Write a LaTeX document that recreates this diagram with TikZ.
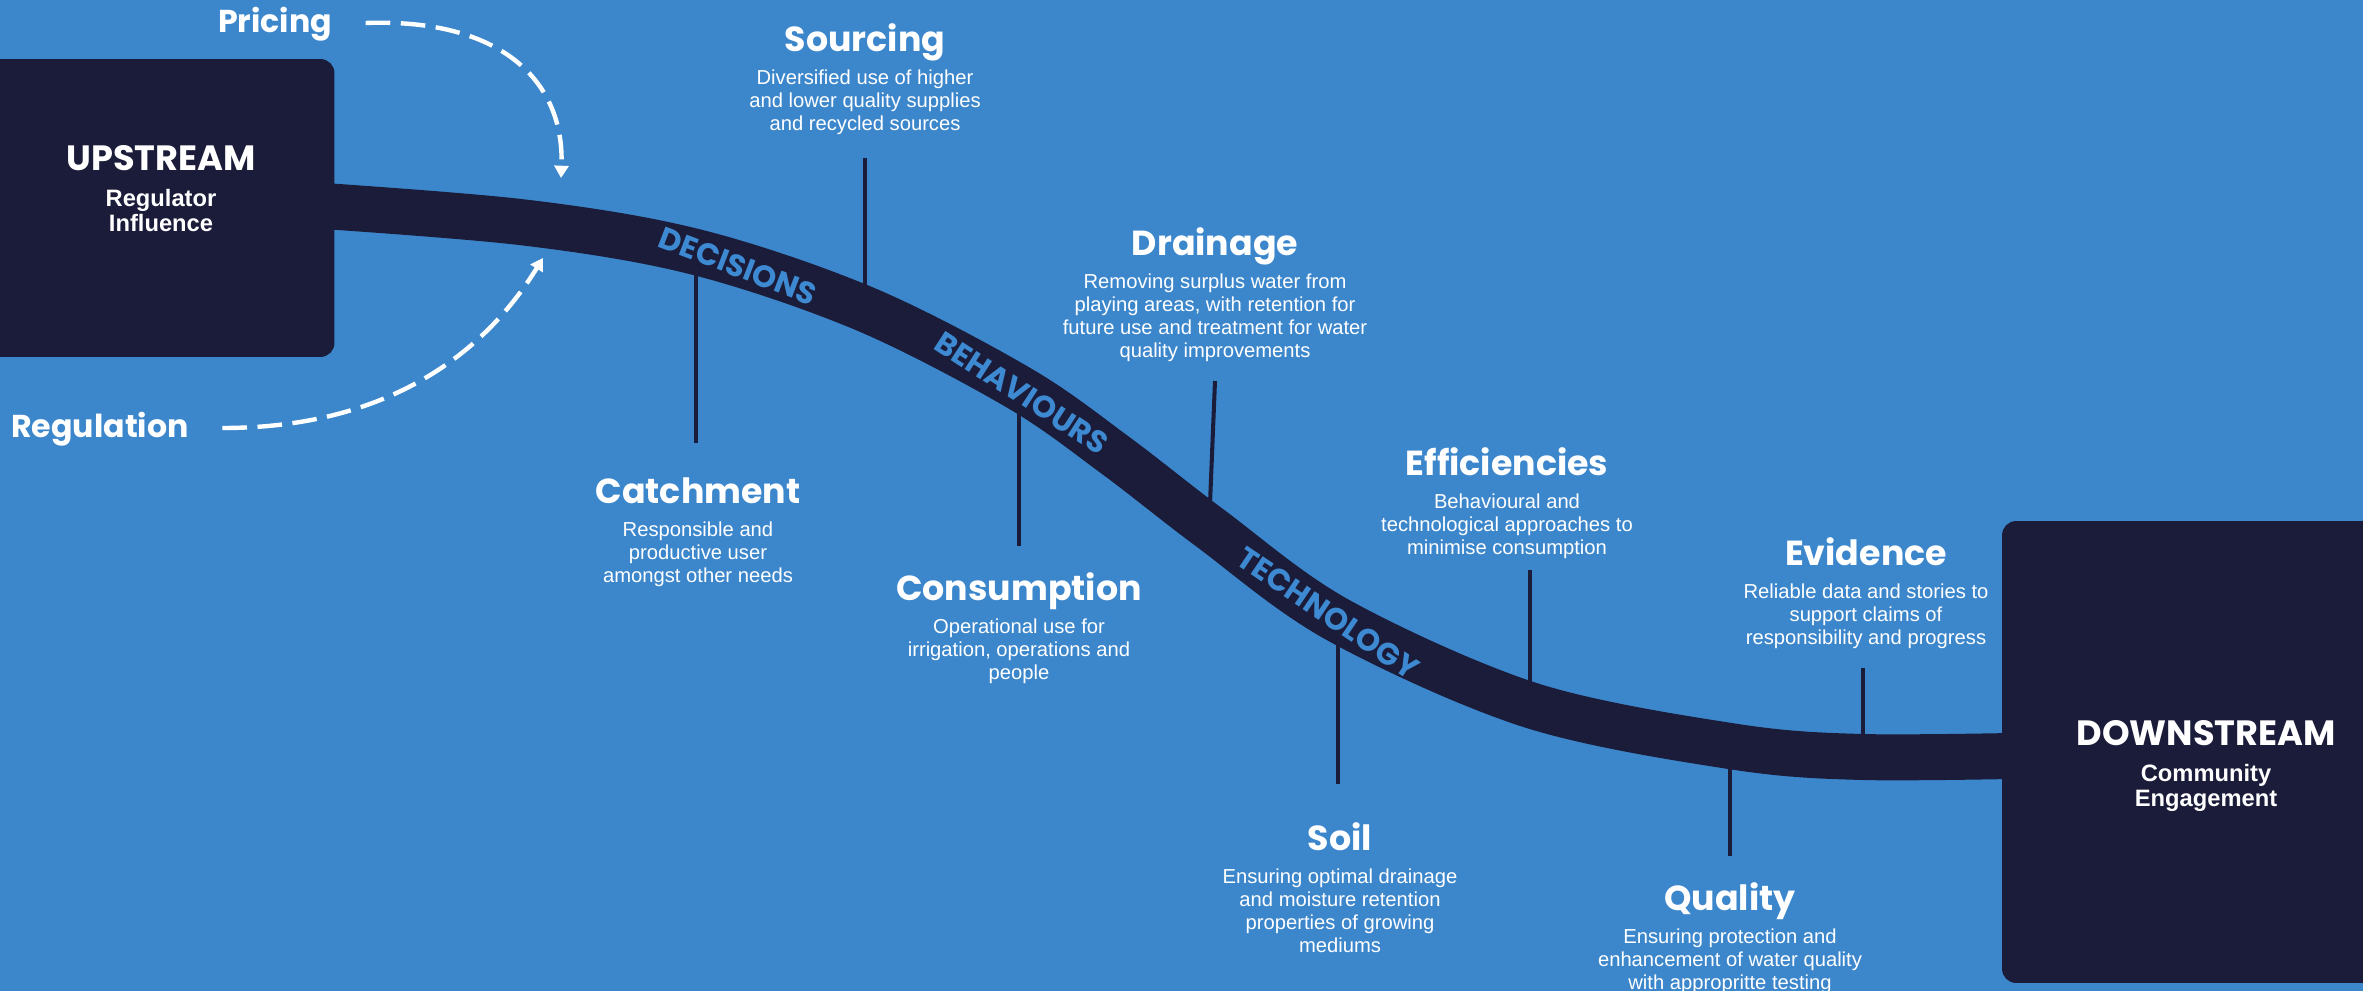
\documentclass[tikz,border=0pt]{standalone}
\usepackage{fontspec}
\setmainfont{Liberation Sans}
\newfontfamily\headfont{Poppins}
\usetikzlibrary{positioning,arrows.meta}

\definecolor{riverblue}{HTML}{3C87CC}
\definecolor{navy}{HTML}{1B1C3A}
\definecolor{bandtxt}{HTML}{3D8AD2}

\tikzset{
  stage/.style={text=white, inner sep=0pt, text height=15pt, text depth=4pt,
    font=\headfont\bfseries\fontsize{19.8}{24}\selectfont},
  note/.style={text=white, inner sep=0pt, align=center,
    font=\fontsize{11.5}{13}\selectfont},
  endbox/.style={fill=navy, rounded corners=8pt, inner sep=0pt},
  endhead/.style={stage, font=\headfont\bfseries\fontsize{20}{22}\selectfont},
  endnote/.style={note, font=\bfseries\fontsize{13.5}{14.7}\selectfont},
  driver/.style={stage, font=\headfont\bfseries\fontsize{18}{22}\selectfont},
  flow/.style={white, line width=2.5pt, dash pattern=on 14pt off 6pt,
    -{Triangle[length=7pt,width=8pt]}},
  pipe/.style={navy, line width=0.92cm},
  tick/.style={navy, line width=2.3pt},
  bandlabel/.style={text=bandtxt, inner sep=0pt,
    font=\headfont\bfseries\fontsize{17.5}{20}\selectfont},
}

\begin{document}
\begin{tikzpicture}[x=0.02cm, y=-0.02cm]
  \fill[riverblue] (0,0) rectangle (2363,991);
  \useasboundingbox (0,0) rectangle (2363,991);

  % points on the river
  \coordinate (b-catchment) at (696,252);
  \coordinate (b-sourcing) at (865,309);
  \coordinate (b-consumption) at (1019,388);
  \coordinate (b-drainage) at (1209,528);
  \coordinate (b-soil) at (1338,620);
  \coordinate (b-efficiencies) at (1530,705);
  \coordinate (b-quality) at (1730,746);
  \coordinate (b-evidence) at (1863,757);

  % free ends of the ticks
  \coordinate (e-catchment) at (696,443);
  \coordinate (e-sourcing) at (865,158);
  \coordinate (e-consumption) at (1019,546);
  \coordinate (e-drainage) at (1215,381);
  \coordinate (e-soil) at (1338,784);
  \coordinate (e-efficiencies) at (1530,570);
  \coordinate (e-quality) at (1730,856);
  \coordinate (e-evidence) at (1863,668);

  \draw[tick] (b-catchment) -- (e-catchment);
  \draw[tick] (b-sourcing) -- (e-sourcing);
  \draw[tick] (b-consumption) -- (e-consumption);
  \draw[tick] (b-drainage) -- (e-drainage);
  \draw[tick] (b-soil) -- (e-soil);
  \draw[tick] (b-efficiencies) -- (e-efficiencies);
  \draw[tick] (b-quality) -- (e-quality);
  \draw[tick] (b-evidence) -- (e-evidence);

  % the river
  \draw[pipe] plot[smooth, tension=0.55] coordinates {(280,203) (520,222)
    (696,252) (865,309) (1019,388) (1115,455) (1210,528) (1338,620)
    (1530,705) (1730,746) (1863,757) (2060,755)};

  \node[bandlabel, rotate=-21] (decisions) at (738,266) {DECISIONS};
  \node[bandlabel, rotate=-33] (behaviours) at (1022,393) {BEHAVIOURS};
  \node[bandlabel, rotate=-34] (technology) at (1328,613) {TECHNOLOGY};

  % ends
  \node[endbox, minimum width=7.3cm, minimum height=5.96cm] (upstream) at (152,208) {};
  \node[endbox, minimum width=7.96cm, minimum height=9.24cm] (downstream) at (2201,752) {};

  \node[endhead] (up-head) at (161,161) {UPSTREAM};
  \node[endnote, below=6pt of up-head] (up-txt) {Regulator\\Influence};
  \node[endhead] (down-head) at (2206,736) {DOWNSTREAM};
  \node[endnote, below=6pt of down-head] (down-txt) {Community\\Engagement};

  % drivers
  \node[driver] (pricing) at (275,23) {Pricing};
  \node[driver] (regulation) at (100,428) {Regulation};
  \coordinate (pricing-tip) at (561,178);
  \coordinate (regulation-tip) at (543,258);

  \draw[flow] ([xshift=19pt]pricing.east) .. controls (500,18) and (565,80) .. (pricing-tip);
  \draw[flow] ([xshift=19pt]regulation.east) .. controls (380,428) and (480,360) .. (regulation-tip);

  % stages
  \node[stage] (sourcing) at (865,42) {Sourcing};
  \node[note, below=6pt of sourcing] (sourcing-txt) {Diversified use of higher\\and lower quality supplies\\and recycled sources};

  \node[stage] (catchment) at (698,494) {Catchment};
  \node[note, below=6pt of catchment] (catchment-txt) {Responsible and\\productive user\\amongst other needs};

  \node[stage] (drainage) at (1215,246) {Drainage};
  \node[note, below=6pt of drainage] (drainage-txt) {Removing surplus water from\\playing areas, with retention for\\future use and treatment for water\\quality improvements};

  \node[stage] (consumption) at (1019,591) {Consumption};
  \node[note, below=6pt of consumption] (consumption-txt) {Operational use for\\irrigation, operations and\\people};

  \node[stage] (efficiencies) at (1507,466) {Efficiencies};
  \node[note, below=6pt of efficiencies] (efficiencies-txt) {Behavioural and\\technological approaches to\\minimise consumption};

  \node[stage] (soil) at (1340,841) {Soil};
  \node[note, below=6pt of soil] (soil-txt) {Ensuring optimal drainage\\and moisture retention\\properties of growing\\mediums};

  \node[stage] (evidence) at (1866,556) {Evidence};
  \node[note, below=6pt of evidence] (evidence-txt) {Reliable data and stories to\\support claims of\\responsibility and progress};

  \node[stage] (quality) at (1730,901) {Quality};
  \node[note, below=6pt of quality] (quality-txt) {Ensuring protection and\\enhancement of water quality\\with appropritte testing};
\end{tikzpicture}
\end{document}
